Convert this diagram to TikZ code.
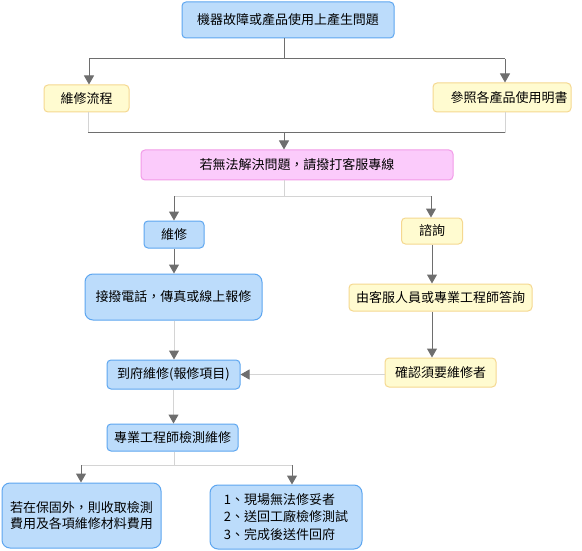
\documentclass[tikz,border=0pt]{standalone}
\usepackage{fontspec}
\setmainfont{Noto Sans CJK TC}
\usetikzlibrary{arrows.meta}
\definecolor{bfill}{HTML}{BCDCFB}
\definecolor{bdraw}{HTML}{5DA6F0}
\definecolor{yfill}{HTML}{FFFBD0}
\definecolor{ydraw}{HTML}{F5D890}
\definecolor{pfill}{HTML}{FBCBFB}
\definecolor{pdraw}{HTML}{F29BE8}
\definecolor{dline}{HTML}{6E6E6E}
\definecolor{lline}{HTML}{D4D4D4}
\begin{document}
\begin{tikzpicture}[x=1pt,y=-1pt,
  font=\fontsize{13pt}{16pt}\selectfont,
  basebox/.style={rounded corners=4pt, line width=1pt, inner sep=0pt, align=center},
  bluebox/.style={basebox, fill=bfill, draw=bdraw},
  yellowbox/.style={basebox, fill=yfill, draw=ydraw},
  pinkbox/.style={basebox, fill=pfill, draw=pdraw},
  dl/.style={draw=dline, line width=1pt},
  ll/.style={draw=lline, line width=1pt},
  arrD/.style={dl, -{Triangle[width=10pt,length=9pt,color=dline]}},
  arrL/.style={ll, -{Triangle[width=10pt,length=9pt,color=dline]}}]
\path[use as bounding box, fill=white] (0,0) rectangle (582,551);

\node[bluebox, minimum width=212pt, minimum height=36pt] (A) at (288,20) {機器故障或產品使用上產生問題};
\node[yellowbox, minimum width=85pt, minimum height=27pt] (B) at (86.5,98.5) {維修流程};
\node[yellowbox, minimum width=138pt, minimum height=29pt] (C) at (502,97.5) {\hspace*{14pt}參照各產品使用明書};
\node[pinkbox, minimum width=312pt, minimum height=30pt] (P) at (297,165) {若無法解決問題，請撥打客服專線};
\node[bluebox, minimum width=60pt, minimum height=27pt] (D) at (174,234.5) {維修};
\node[bluebox, rounded corners=8pt, minimum width=177pt, minimum height=46pt] (E) at (173.5,297) {接撥電話，傳真或線上報修};
\node[bluebox, minimum width=133pt, minimum height=29pt] (F) at (173.5,374.5) {到府維修(報修項目)};
\node[bluebox, minimum width=131pt, minimum height=27pt] (G) at (172.5,437.5) {專業工程師檢測維修};
\node[bluebox, rounded corners=8pt, minimum width=159pt, minimum height=65pt, align=left] (H) at (81.5,515.5) {若在保固外，則收取檢測\\費用及各項維修材料費用};
\node[bluebox, rounded corners=8pt, minimum width=152pt, minimum height=64pt, align=left, font=\fontsize{13pt}{17.5pt}\selectfont] (I) at (286,517) {1、現場無法修妥者\\2、送回工廠檢修測試\\3、完成後送件回府};
\node[yellowbox, minimum width=61pt, minimum height=26pt] (J) at (432,231) {諮詢};
\node[yellowbox, minimum width=183pt, minimum height=27pt] (K) at (440.5,297.5) {由客服人員或專業工程師答詢};
\node[yellowbox, minimum width=111pt, minimum height=29pt] (L) at (440.5,372.5) {確認須要維修者};

\coordinate (s1) at (284,59);
\coordinate (s1l) at (89,59);
\coordinate (s1r) at (505,59);
\draw[dl] (A.south -| s1) -- (s1);
\draw[dl] (s1l) -- (s1r);
\draw[arrD] (s1l) -- (s1l |- B.north);
\draw[arrD] (s1r) -- (s1r |- C.north);

\coordinate (s2) at (284,133);
\coordinate (s2l) at (88,133);
\coordinate (s2r) at (505,133);
\draw[ll] (B.south -| s2l) -- (s2l);
\draw[ll] (C.south -| s2r) -- (s2r);
\draw[dl] (s2l) -- (s2r);
\draw[arrD] (s2) -- (s2 |- P.north);

\coordinate (s3) at (284,196);
\coordinate (s3l) at (174,196);
\coordinate (s3r) at (431,196);
\draw[ll] (P.south -| s3) -- (s3);
\draw[ll] (s3l) -- (s3r);
\draw[arrD] (s3l) -- (s3l |- D.north);
\draw[arrD] (s3r) -- (s3r |- J.north);

\draw[arrD] (D.south) -- (D.south |- E.north);
\draw[arrL] (E.south -| D.south) -- (D.south |- F.north);
\draw[arrL] (F.south) -- (F.south |- G.north);

\coordinate (s4) at (174,465);
\coordinate (s4l) at (81,465);
\coordinate (s4r) at (292,465);
\draw[ll] (G.south -| s4) -- (s4);
\draw[ll] (s4l) -- (s4r);
\draw[arrD] (s4l) -- (s4l |- H.north);
\draw[arrD] (s4r) -- (s4r |- I.north);

\draw[arrD] (J.south) -- (J.south |- K.north);
\draw[arrD] (K.south -| J.south) -- (J.south |- L.north);
\draw[arrL] (F.east -| L.west) -- (F.east);
\end{tikzpicture}
\end{document}
